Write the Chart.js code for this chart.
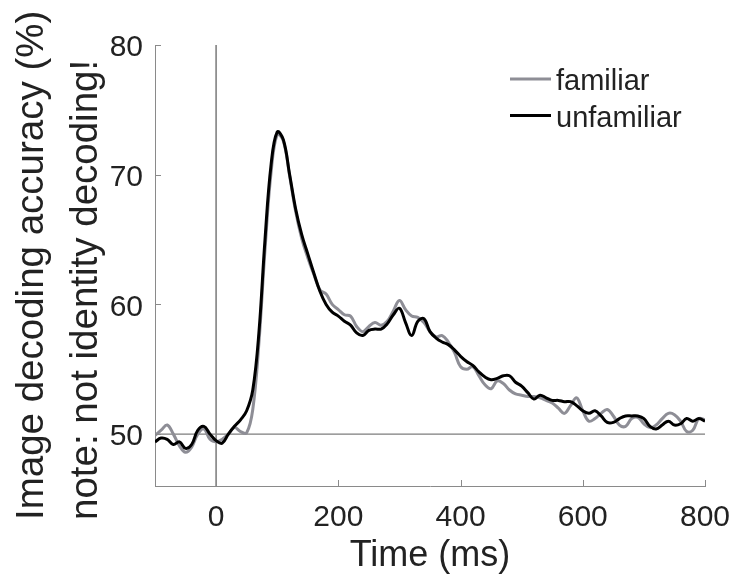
<!DOCTYPE html>
<html>
<head>
<meta charset="utf-8">
<script src="https://cdn.jsdelivr.net/npm/chart.js@4/dist/chart.umd.min.js"></script>
<style>
  html, body { margin: 0; padding: 0; background: #ffffff; }
  #wrap { width: 733px; height: 581px; position: relative; }
</style>
</head>
<body>
<div id="wrap"><canvas id="c" width="733" height="581"></canvas></div>
<script>
// ---- data ----
const timesMs = [-100,-90,-80,-70,-60,-50,-40,-30,-20,-10,0,10,20,30,40,50,60,70,80,90,100,110,120,130,140,150,160,170,180,190,200,210,220,230,240,250,260,270,280,290,300,310,320,330,340,350,360,370,380,390,400,410,420,430,440,450,460,470,480,490,500,510,520,530,540,550,560,570,580,590,600,610,620,630,640,650,660,670,680,690,700,710,720,730,740,750,760,770,780,790,800];

const familiarAcc = [49.9,50.3,50.7,50.0,49.1,48.6,49.0,50.0,50.4,49.6,49.4,49.6,50.0,50.5,50.2,50.1,51.9,57.0,64.2,70.2,73.1,72.6,70.0,67.2,65.1,63.6,62.3,61.1,60.8,60.0,59.6,59.2,59.1,58.3,57.9,58.3,58.6,58.4,58.7,59.5,60.3,59.6,59.1,59.0,58.6,57.9,57.5,57.6,57.1,56.3,55.2,55.0,55.2,54.5,53.8,53.5,54.1,53.9,53.4,53.1,53.0,52.9,52.9,52.8,52.6,52.4,52.0,51.6,52.2,52.8,51.8,51.0,51.2,51.6,51.9,51.4,50.7,50.6,51.2,51.3,50.8,50.5,50.7,51.2,51.6,51.5,51.0,50.2,50.3,51.2,51.1];

const unfamiliarAcc = [49.4,49.7,49.6,49.2,49.4,48.9,49.2,50.3,50.6,50.0,49.5,49.3,50.0,50.6,51.1,51.8,53.4,57.8,65.0,70.8,73.3,72.7,70.1,67.4,65.4,63.9,62.4,61.0,60.0,59.4,59.1,58.7,58.4,57.8,57.6,58.0,58.1,58.1,58.5,59.2,59.7,58.6,57.6,58.7,58.9,57.9,57.4,57.1,56.9,56.5,56.0,55.6,55.3,54.8,54.4,54.2,54.3,54.5,54.5,54.0,53.7,53.2,52.7,53.0,52.8,52.6,52.6,52.5,52.5,52.2,51.8,51.6,51.8,51.4,50.9,50.9,51.2,51.4,51.4,51.4,51.2,50.6,50.4,50.7,51.0,50.7,50.8,51.2,51.0,51.2,51.0];

const seriesLabels = ['familiar', 'unfamiliar'];
const xTickValues = [0, 200, 400, 600, 800];
const yTickValues = [50, 60, 70, 80];
const xRange = [-100, 800];
const yRange = [46, 80];
const chanceLevel = 50;
const stimulusOnset = 0;
const xTitle = 'Time (ms)';
const yTitleLines = ['Image decoding accuracy (%)', 'note: not identity decoding!'];

// ---- styling ----
const FONT = "'Liberation Sans', Arial, Helvetica, sans-serif";
const TEXT = '#222222';
const AXIS = '#8a8a8a';
const GREY = '#8e8e96';

function pts(vals) { return timesMs.map((t, i) => ({ x: t, y: vals[i] })); }

const refLines = {
  id: 'refLines',
  beforeDatasetsDraw(chart) {
    const { ctx, chartArea: a, scales: { x, y } } = chart;
    ctx.save();
    const yy = y.getPixelForValue(chanceLevel);
    ctx.strokeStyle = '#7c7c7c';
    ctx.lineWidth = 1.3;
    ctx.beginPath(); ctx.moveTo(a.left, yy); ctx.lineTo(a.right, yy); ctx.stroke();
    const xx = x.getPixelForValue(stimulusOnset);
    ctx.strokeStyle = '#8f8f8f';
    ctx.lineWidth = 1.8;
    ctx.beginPath(); ctx.moveTo(xx, a.top); ctx.lineTo(xx, a.bottom); ctx.stroke();
    ctx.restore();
  },
  afterDraw(chart) {
    const { ctx, chartArea: a, scales: { x, y } } = chart;
    ctx.save();
    ctx.strokeStyle = AXIS;
    ctx.lineWidth = 1;
    x.ticks.forEach(t => {
      const px = Math.round(x.getPixelForValue(t.value)) + 0.5;
      ctx.beginPath(); ctx.moveTo(px, a.bottom); ctx.lineTo(px, a.bottom - 6); ctx.stroke();
    });
    y.ticks.forEach(t => {
      const py = Math.round(y.getPixelForValue(t.value)) + 0.5;
      ctx.beginPath(); ctx.moveTo(a.left, py); ctx.lineTo(a.left + 6, py); ctx.stroke();
    });
    const ds = chart.data.datasets;
    const rows = [79, 115.5];
    ctx.font = '29px ' + FONT;
    ctx.textBaseline = 'alphabetic';
    ctx.textAlign = 'left';
    ds.forEach((d, i) => {
      ctx.strokeStyle = d.borderColor;
      ctx.lineWidth = 3;
      ctx.beginPath(); ctx.moveTo(510, rows[i]); ctx.lineTo(551, rows[i]); ctx.stroke();
      ctx.fillStyle = TEXT;
      ctx.fillText(d.label, 556, rows[i] + 11);
    });
    ctx.font = '38.5px ' + FONT;
    ctx.fillStyle = TEXT;
    ctx.translate(43, 520);
    ctx.rotate(-Math.PI / 2);
    ctx.fillText(yTitleLines[0], 0, 0);
    ctx.fillText(yTitleLines[1], 0, 54);
    ctx.restore();
  }
};

new Chart(document.getElementById('c'), {
  type: 'line',
  data: {
    datasets: [
      { label: seriesLabels[0], data: pts(familiarAcc), borderColor: GREY, borderWidth: 3, pointRadius: 0, tension: 0.4, order: 1, fill: false },
      { label: seriesLabels[1], data: pts(unfamiliarAcc), borderColor: '#000000', borderWidth: 3, pointRadius: 0, tension: 0.4, order: 0, fill: false }
    ]
  },
  options: {
    responsive: false,
    animation: false,
    devicePixelRatio: 1,
    layout: { padding: { left: 0, right: 28, top: 45, bottom: 0 } },
    plugins: { legend: { display: false }, tooltip: { enabled: false } },
    scales: {
      x: {
        type: 'linear',
        min: xRange[0], max: xRange[1],
        afterBuildTicks: s => { s.ticks = xTickValues.map(v => ({ value: v })); },
        afterFit: s => { s.height = 95; s.paddingLeft = 0; s.paddingRight = 0; },
        grid: { display: false, drawTicks: false },
        border: { display: true, color: AXIS, width: 1 },
        ticks: { color: TEXT, font: { family: FONT, size: 30 }, padding: 14, maxRotation: 0, autoSkip: false },
        title: { display: true, text: xTitle, color: TEXT, font: { family: FONT, size: 36 }, padding: { top: 0, bottom: 3 } }
      },
      y: {
        type: 'linear',
        min: yRange[0], max: yRange[1],
        afterBuildTicks: s => { s.ticks = yTickValues.map(v => ({ value: v })); },
        afterFit: s => { s.width = 155; s.paddingTop = 0; s.paddingBottom = 0; },
        grid: { display: false, drawTicks: false },
        border: { display: true, color: AXIS, width: 1 },
        ticks: { color: TEXT, font: { family: FONT, size: 30 }, padding: 12, labelOffset: 3, autoSkip: false }
      }
    }
  },
  plugins: [refLines]
});
</script>
</body>
</html>
